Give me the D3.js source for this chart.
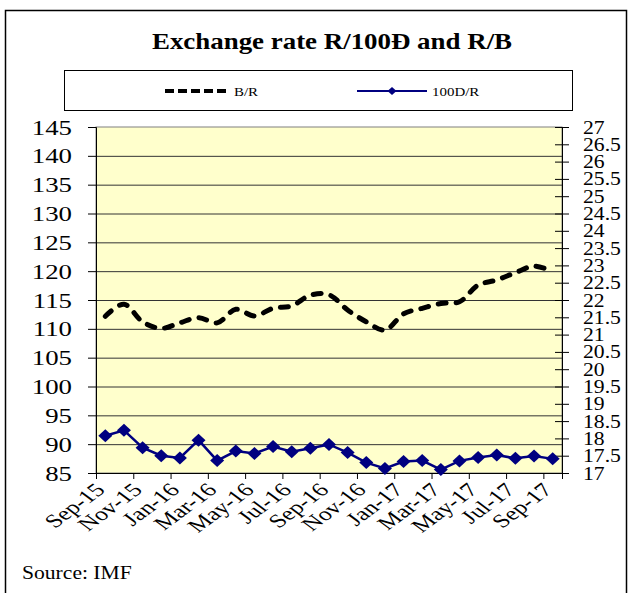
<!DOCTYPE html>
<html lang="en">
<head>
<meta charset="UTF-8">
<title>Exchange rate R/100Đ and R/B</title>
<script src="https://d3js.org/d3.v7.min.js"></script>
<style>
  body { margin: 0; background: #fff; }
</style>
</head>
<body>
<div id="chart"></div>
<script>
// monthly categories, Sep-15 .. Sep-17
const months = ["Sep-15", "Oct-15", "Nov-15", "Dec-15", "Jan-16", "Feb-16", "Mar-16", "Apr-16",
  "May-16", "Jun-16", "Jul-16", "Aug-16", "Sep-16", "Oct-16", "Nov-16", "Dec-16", "Jan-17",
  "Feb-17", "Mar-17", "Apr-17", "May-17", "Jun-17", "Jul-17", "Aug-17", "Sep-17"];

// B/R on the right axis
const brRate = [21.53, 21.88, 21.37, 21.18, 21.34, 21.49, 21.34, 21.73, 21.54, 21.76, 21.83, 22.14,
  22.15, 21.71, 21.37, 21.13, 21.60, 21.76, 21.90, 21.95, 22.43, 22.58, 22.79, 22.98, 22.82];

// 100D/R on the left axis
const dongRate = [91.45, 92.4, 89.4, 88.0, 87.6, 90.7, 87.15, 88.8, 88.4, 89.6, 88.7, 89.3,
  89.95, 88.55, 86.8, 85.8, 87.0, 87.15, 85.6, 87.1, 87.7, 88.1, 87.55, 87.95, 87.45];

const leftTicks = d3.range(85, 146, 5);
const rightTicks = d3.range(17, 27.01, 0.5);
const labelMonths = months.filter((d, i) => i % 2 === 0);

const width = 629, height = 593;
const plot = { left: 96, right: 562, top: 127, bottom: 473 };
const serif = '"Liberation Serif", "Times New Roman", Times, "DejaVu Serif", serif';

const svg = d3.select("#chart").append("svg")
  .attr("width", width)
  .attr("height", height)
  .style("font-family", serif);

// helper for plain labels (sx widens the glyphs a little, like the source picture)
function label(x, y, str, size, anchor, weight, sx) {
  return svg.append("text")
    .attr("transform", `translate(${x},${y}) scale(${sx || 1},1)`)
    .attr("text-anchor", anchor || "start")
    .style("font-family", serif)
    .style("font-size", size + "px")
    .style("font-weight", weight || "normal")
    .text(str);
}

// outer frame
svg.append("rect")
  .attr("x", 5.5).attr("y", 10.5)
  .attr("width", 621).attr("height", 640)
  .attr("fill", "none").attr("stroke", "#000").attr("stroke-width", 1.5);

label(332, 49, "Exchange rate R/100Đ and R/B", 23, "middle", "bold", 1.17);

// legend box
svg.append("rect")
  .attr("x", 64.5).attr("y", 70.5)
  .attr("width", 508).attr("height", 40)
  .attr("fill", "#fff").attr("stroke", "#000");

// scales
const x = d3.scaleBand().domain(months).range([plot.left, plot.right]);
const xIdx = d3.scaleLinear().domain([0, months.length]).range([plot.left, plot.right]);
const yLeft = d3.scaleLinear().domain([85, 145]).range([plot.bottom, plot.top]);
const yRight = d3.scaleLinear().domain([17, 27]).range([plot.bottom, plot.top]);
const cx = d => x(d) + x.bandwidth() / 2;

// plot background
svg.append("rect")
  .attr("x", plot.left).attr("y", plot.top)
  .attr("width", plot.right - plot.left).attr("height", plot.bottom - plot.top)
  .attr("fill", "#ffffcc").attr("stroke", "#808080");

// gridlines
svg.append("g")
  .attr("transform", `translate(${plot.left},0)`)
  .call(d3.axisLeft(yLeft).tickValues(leftTicks.slice(1, -1)).tickSize(-(plot.right - plot.left)).tickFormat(""))
  .call(g => g.select(".domain").remove())
  .selectAll("line").attr("stroke", "#333");

// left axis
const lsx = 1.22;
const gl = svg.append("g")
  .attr("transform", `translate(${plot.left},0)`)
  .call(d3.axisLeft(yLeft).tickValues(leftTicks).tickSize(8).tickPadding(0));
gl.attr("font-family", null);
gl.select(".domain").attr("stroke", "#000");
gl.selectAll("text")
  .attr("x", -24 / lsx)
  .attr("transform", `scale(${lsx},1)`)
  .style("font-family", serif)
  .style("font-size", "22px");

// right axis, ticks crossing the line
const rsx = 1.14;
const gr = svg.append("g")
  .attr("transform", `translate(${plot.right},0)`)
  .call(d3.axisRight(yRight).tickValues(rightTicks).tickSize(7).tickFormat(d => d));
gr.attr("font-family", null);
gr.select(".domain").attr("stroke", "#000");
gr.selectAll(".tick line").attr("x1", -7);
gr.selectAll("text")
  .attr("x", 21 / rsx)
  .attr("transform", `scale(${rsx},1)`)
  .style("font-family", serif)
  .style("font-size", "19px");

// bottom axis: ticks on category edges, labels on categories
svg.append("g")
  .attr("transform", `translate(0,${plot.bottom})`)
  .call(d3.axisBottom(xIdx).tickValues(d3.range(0, months.length, 2)).tickSize(6).tickFormat(""))
  .call(g => g.select(".domain").attr("stroke", "#000"));

const gx = svg.append("g")
  .attr("transform", `translate(0,${plot.bottom})`)
  .call(d3.axisBottom(x).tickValues(labelMonths).tickSize(0));
gx.attr("font-family", null);
gx.select(".domain").remove();
gx.selectAll("text")
  .attr("x", 0).attr("y", 0).attr("dy", 0)
  .attr("text-anchor", "end")
  .attr("transform", "translate(1,18) scale(1.35,1) rotate(-45)")
  .style("font-family", serif)
  .style("font-size", "19px");

// B/R dashed line
const lineR = d3.line()
  .x((d, i) => cx(months[i]))
  .y(d => yRight(d))
  .curve(d3.curveCatmullRom.alpha(0.5));

svg.append("path")
  .datum(brRate)
  .attr("fill", "none")
  .attr("stroke", "#000")
  .attr("stroke-width", 5)
  .attr("stroke-linecap", "round")
  .attr("stroke-dasharray", "8,10")
  .attr("d", lineR);

// 100D/R line with diamonds
const lineL = d3.line()
  .x((d, i) => cx(months[i]))
  .y(d => yLeft(d));

svg.append("path")
  .datum(dongRate)
  .attr("fill", "none")
  .attr("stroke", "#000080")
  .attr("stroke-width", 2.5)
  .attr("d", lineL);

const diamond = "M0,-6.5L7,0L0,6.5L-7,0Z";
svg.append("g").selectAll("path")
  .data(dongRate)
  .join("path")
  .attr("transform", (d, i) => `translate(${cx(months[i])},${yLeft(d)})`)
  .attr("d", diamond)
  .attr("fill", "#000080");

// legend entries
svg.append("line")
  .attr("x1", 165).attr("x2", 228).attr("y1", 91).attr("y2", 91)
  .attr("stroke", "#000").attr("stroke-width", 4)
  .attr("stroke-dasharray", "9,4");
label(234, 96, "B/R", 13, "start", "normal", 1.15);

svg.append("line")
  .attr("x1", 357).attr("x2", 427).attr("y1", 91).attr("y2", 91)
  .attr("stroke", "#000080").attr("stroke-width", 2);
svg.append("path")
  .attr("transform", "translate(392,91)")
  .attr("d", "M0,-4L4.5,0L0,4L-4.5,0Z")
  .attr("fill", "#000080");
label(432, 96, "100D/R", 13, "start", "normal", 1.15);

label(22, 579, "Source: IMF", 18, "start", "normal", 1.2);
</script>
</body>
</html>
